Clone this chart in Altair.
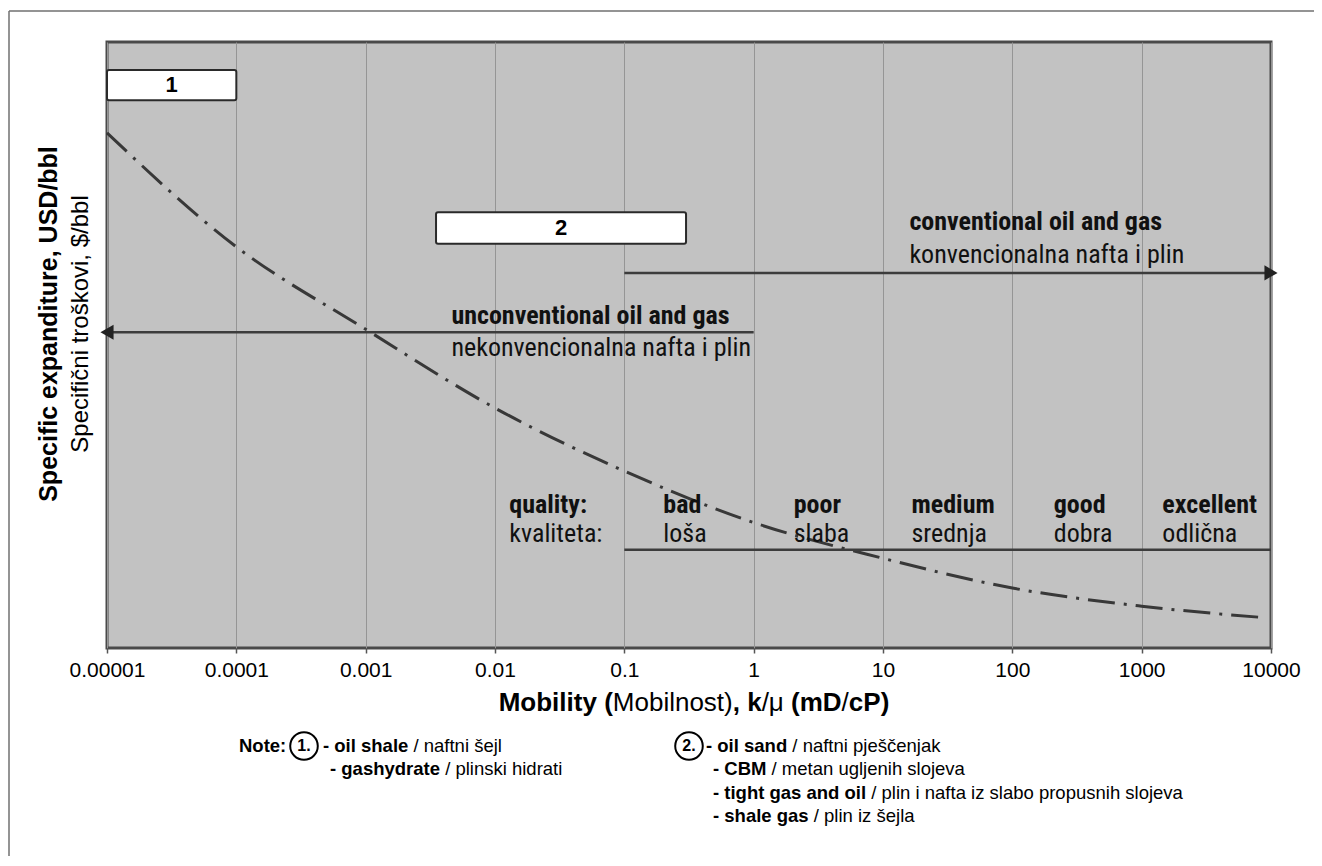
import altair as alt
import pandas as pd

# ---------------- data ----------------
mobility = [1e-5, 1e-4, 1e-3, 1e-2, 1e-1, 1, 10, 100, 1000, 9000]
expenditure = [85.0, 66.2, 52.6, 39.6, 29.2, 20.7, 14.8, 9.9, 6.9, 5.0]

decade_ticks = [1e-5, 1e-4, 1e-3, 1e-2, 1e-1, 1, 10, 100, 1000, 10000]

box_labels = ["1", "2"]
box_x_from = [1e-5, 0.0035]
box_x_to = [1e-4, 0.30]
box_y_top = [95.4, 71.9]
box_y_bottom = [90.4, 66.7]

arrow_from = [0.1, 1.0]
arrow_to = [10000, 1e-5]
arrow_level = [61.9, 52.1]
arrow_head = ["triangle-right", "triangle-left"]
arrow_nudge = [-6, 6]

quality_line = {"from": 0.1, "to": 10000, "level": 16.2}

region_bold = ["conventional oil and gas", "unconventional oil and gas"]
region_regular = ["konvencionalna nafta i plin", "nekonvencionalna nafta i plin"]
region_x = [16, 0.0046]
region_bold_y = [70.3, 54.8]
region_regular_y = [64.9, 49.5]

quality_bold = ["quality:", "bad", "poor", "medium", "good", "excellent"]
quality_regular = ["kvaliteta:", "loša", "slaba", "srednja", "dobra", "odlična"]
quality_x = [0.0129, 0.2, 2.04, 16.6, 209, 1445]
quality_bold_y = 23.6
quality_regular_y = 18.8

y_title_bold = "Specific expanditure, USD/bbl"
y_title_regular = "Specifični troškovi, $/bbl"
x_title_parts = [("Mobility (", True), ("Mobilnost)", False), (",", True), (" ", False),
                 ("k", True), ("/μ", False), (" ", False), ("(mD", True), ("/", False), ("cP)", True)]

note_header = "Note:"
note_marks = ["1.", "2."]
note1_bold = ["- oil shale", "- gashydrate"]
note1_regular = ["/ naftni šejl", "/ plinski hidrati"]
note2_bold = ["- oil sand", "- CBM", "- tight gas and oil", "- shale gas"]
note2_regular = ["/ naftni pješčenjak", "/ metan ugljenih slojeva",
                 "/ plin i nafta iz slabo propusnih slojeva", "/ plin iz šejla"]

# ---------------- styling / layout ----------------
SANS = "Liberation Sans, Arial, Helvetica, sans-serif"
NARROW = "Liberation Sans Narrow, Arial Narrow, Roboto Condensed, Liberation Sans, sans-serif"
OX, OY = 107, 42          # plot origin on the page
W, H = 1164, 606
TOTAL_W, TOTAL_H = 1306, 848

REG = {}
for chars, w in [("ijl", 222), (" ,./:;!fIt", 278), ("()-r", 333), ("cksvxyzJšč", 500),
                 ("abdeghnopqu0123456789$L", 556), ("μ", 576), ("FTZ", 611), ("ABEKPSVXY", 667),
                 ("CDHNRUw", 722), ("GOQ", 778), ("mM", 833), ("W", 944)]:
    for c in chars:
        REG[c] = w
BOLD = {}
for chars, w in [(" ,./ilIj", 278), ("()-:tf", 333), ("r", 389), ("z", 500),
                 ("acesvxykJ0123456789$šč", 556), ("bdghnopquFTZL", 611), ("EPSVXY", 667),
                 ("ABCDHKNRU", 722), ("GOQw", 778), ("M", 833), ("m", 889), ("W", 944)]:
    for c in chars:
        BOLD[c] = w


def tw(s, bold, size):
    t = BOLD if bold else REG
    return sum(t.get(c, 556) for c in s) * size / 1000.0


segs = []


def add_line(parts, x0, y, size, gap=True):
    x = x0
    for i, (t, b) in enumerate(parts):
        if t.strip():
            segs.append(dict(t=t, b=b, x=x - OX, y=y - OY, fs=size))
        x += tw(t, b, size)
        if gap and i < len(parts) - 1:
            x += tw(" ", False, size)


# x-axis title (centered)
XT = 26
tot = sum(tw(t, b, XT) for t, b in x_title_parts)
add_line(x_title_parts, 694 - tot / 2, 703, XT, gap=False)

# notes
NF = 18.5
add_line([(note_header, True)], 239, 746, NF)
add_line([(note1_bold[0], True), (note1_regular[0], False)], 323, 746, NF)
add_line([(note1_bold[1], True), (note1_regular[1], False)], 330, 769, NF)
add_line([(note2_bold[0], True), (note2_regular[0], False)], 706, 746, NF)
for i, yy in zip(range(1, 4), [769, 793, 816]):
    add_line([(note2_bold[i], True), (note2_regular[i], False)], 713, yy, NF)

seg_df = pd.DataFrame(segs)
circ_df = pd.DataFrame({"t": note_marks, "x": [304 - OX, 689 - OX], "y": [746 - OY, 746 - OY]})

xs = alt.Scale(type="log", domain=[1e-5, 1e4])
ys = alt.Scale(domain=[0, 100])

xaxis = alt.Axis(values=decade_ticks, format=".5~f", grid=True, gridColor="#959595", gridWidth=1,
                 domain=False, ticks=True, tickColor="#555555", tickSize=5, tickWidth=1.5,
                 labelFont=SANS, labelFontSize=21, labelColor="#000000", labelPadding=6,
                 labelFlush=False, labelOverlap=False, title=None)

# frame around the whole figure (top and left edges are visible)
frame_df = pd.DataFrame({"a": [0]})
frame_top = alt.Chart(frame_df).mark_rule(color="#707070", strokeWidth=1.5).encode(
    x=alt.value(9 - OX), x2=alt.value(TOTAL_W - OX + 20), y=alt.value(11 - OY))
frame_left = alt.Chart(frame_df).mark_rule(color="#707070", strokeWidth=1.5).encode(
    x=alt.value(9 - OX), y=alt.value(11 - OY), y2=alt.value(TOTAL_H - OY + 20))

curve_df = pd.DataFrame({"mobility": mobility, "cost": expenditure})
curve = alt.Chart(curve_df).mark_line(
    color="#383838", strokeWidth=3, strokeDash=[27, 9, 3, 9], interpolate="monotone"
).encode(x=alt.X("mobility:Q", scale=xs, axis=xaxis), y=alt.Y("cost:Q", scale=ys, axis=None))

box_df = pd.DataFrame({"label": box_labels, "x1": box_x_from, "x2": box_x_to,
                       "y1": box_y_top, "y2": box_y_bottom})
box_df["xc"] = (box_df["x1"] * box_df["x2"]) ** 0.5
box_df["yc"] = (box_df["y1"] + box_df["y2"]) / 2
boxes = alt.Chart(box_df).mark_rect(fill="white", stroke="#2a2a2a", strokeWidth=2, cornerRadius=2).encode(
    x=alt.X("x1:Q", scale=xs, axis=None), x2="x2:Q",
    y=alt.Y("y1:Q", scale=ys, axis=None), y2="y2:Q")
box_text = alt.Chart(box_df).mark_text(font=SANS, fontSize=22, fontWeight="bold", color="black",
                                       baseline="middle").encode(
    x=alt.X("xc:Q", scale=xs, axis=None), y=alt.Y("yc:Q", scale=ys, axis=None), text="label:N")

arr_df = pd.DataFrame({"x1": arrow_from, "x2": arrow_to, "y": arrow_level,
                       "head": arrow_head, "nudge": arrow_nudge})
arrows = alt.Chart(arr_df).mark_rule(color="#3c3c3c", strokeWidth=2.5).encode(
    x=alt.X("x1:Q", scale=xs, axis=None), x2="x2:Q", y=alt.Y("y:Q", scale=ys, axis=None))
heads = alt.Chart(arr_df).mark_point(filled=True, color="#222222", size=230, opacity=1).encode(
    x=alt.X("x2:Q", scale=xs, axis=None), y=alt.Y("y:Q", scale=ys, axis=None),
    shape=alt.Shape("head:N", scale=None), xOffset=alt.XOffset("nudge:Q", scale=None))

ql_df = pd.DataFrame({"x1": [quality_line["from"]], "x2": [quality_line["to"]], "y": [quality_line["level"]]})
qline = alt.Chart(ql_df).mark_rule(color="#3c3c3c", strokeWidth=2.5).encode(
    x=alt.X("x1:Q", scale=xs, axis=None), x2="x2:Q", y=alt.Y("y:Q", scale=ys, axis=None))

reg_df = pd.DataFrame({"b": region_bold, "r": region_regular, "x": region_x,
                       "yb": region_bold_y, "yr": region_regular_y})
reg_b = alt.Chart(reg_df).mark_text(font=NARROW, fontSize=26, fontWeight="bold", align="left",
                                    baseline="middle", color="#111111").encode(
    x=alt.X("x:Q", scale=xs, axis=None), y=alt.Y("yb:Q", scale=ys, axis=None), text="b:N")
reg_r = alt.Chart(reg_df).mark_text(font=NARROW, fontSize=26, align="left",
                                    baseline="middle", color="#111111").encode(
    x=alt.X("x:Q", scale=xs, axis=None), y=alt.Y("yr:Q", scale=ys, axis=None), text="r:N")

q_df = pd.DataFrame({"b": quality_bold, "r": quality_regular, "x": quality_x,
                     "yb": [quality_bold_y] * 6, "yr": [quality_regular_y] * 6})
q_b = alt.Chart(q_df).mark_text(font=NARROW, fontSize=26, fontWeight="bold", align="left",
                                baseline="middle", color="#111111").encode(
    x=alt.X("x:Q", scale=xs, axis=None), y=alt.Y("yb:Q", scale=ys, axis=None), text="b:N")
q_r = alt.Chart(q_df).mark_text(font=NARROW, fontSize=26, align="left",
                                baseline="middle", color="#111111").encode(
    x=alt.X("x:Q", scale=xs, axis=None), y=alt.Y("yr:Q", scale=ys, axis=None), text="r:N")

# y-axis titles (rotated)
yt_df = pd.DataFrame({"t": [y_title_bold, y_title_regular], "x": [49 - OX, 81 - OX], "y": [324 - OY] * 2})
yt_b = alt.Chart(yt_df).transform_filter(alt.datum.t == y_title_bold).mark_text(
    font=SANS, fontSize=25, fontWeight="bold", angle=270, align="center", baseline="middle",
    color="black").encode(x=alt.X("x:Q", scale=None), y=alt.Y("y:Q", scale=None), text="t:N")
yt_r = alt.Chart(yt_df).transform_filter(alt.datum.t == y_title_regular).mark_text(
    font=SANS, fontSize=24, angle=270, align="center", baseline="middle",
    color="black").encode(x=alt.X("x:Q", scale=None), y=alt.Y("y:Q", scale=None), text="t:N")

seg_b = alt.Chart(seg_df).transform_filter(alt.datum.b == True).mark_text(
    font=SANS, fontWeight="bold", align="left", baseline="middle", color="black").encode(
    x=alt.X("x:Q", scale=None), y=alt.Y("y:Q", scale=None), text="t:N", size=alt.Size("fs:Q", scale=None))
seg_r = alt.Chart(seg_df).transform_filter(alt.datum.b == False).mark_text(
    font=SANS, align="left", baseline="middle", color="black").encode(
    x=alt.X("x:Q", scale=None), y=alt.Y("y:Q", scale=None), text="t:N", size=alt.Size("fs:Q", scale=None))

circles = alt.Chart(circ_df).mark_point(shape="circle", size=760, filled=False, stroke="black",
                                        strokeWidth=2, opacity=1).encode(
    x=alt.X("x:Q", scale=None), y=alt.Y("y:Q", scale=None))
circ_text = alt.Chart(circ_df).mark_text(font=SANS, fontSize=16, fontWeight="bold", color="black",
                                         baseline="middle").encode(
    x=alt.X("x:Q", scale=None), y=alt.Y("y:Q", scale=None), text="t:N")

chart = alt.layer(
    curve, frame_top, frame_left, qline, arrows, heads, boxes, box_text, reg_b, reg_r, q_b, q_r,
    yt_b, yt_r, seg_b, seg_r, circles, circ_text
).resolve_scale(
    x="independent", y="independent"
).properties(
    width=W, height=H,
    padding={"left": OX - 8, "top": OY - 8, "right": TOTAL_W - (OX - 8) - W,
             "bottom": TOTAL_H - (OY - 8) - H},
    autosize=alt.AutoSizeParams(type="none"),
    background="white",
).configure_view(
    fill="#c2c2c2", stroke="#4a4a4a", strokeWidth=3
)

chart.save("out.html", embed_options={"renderer": "svg", "actions": False})
